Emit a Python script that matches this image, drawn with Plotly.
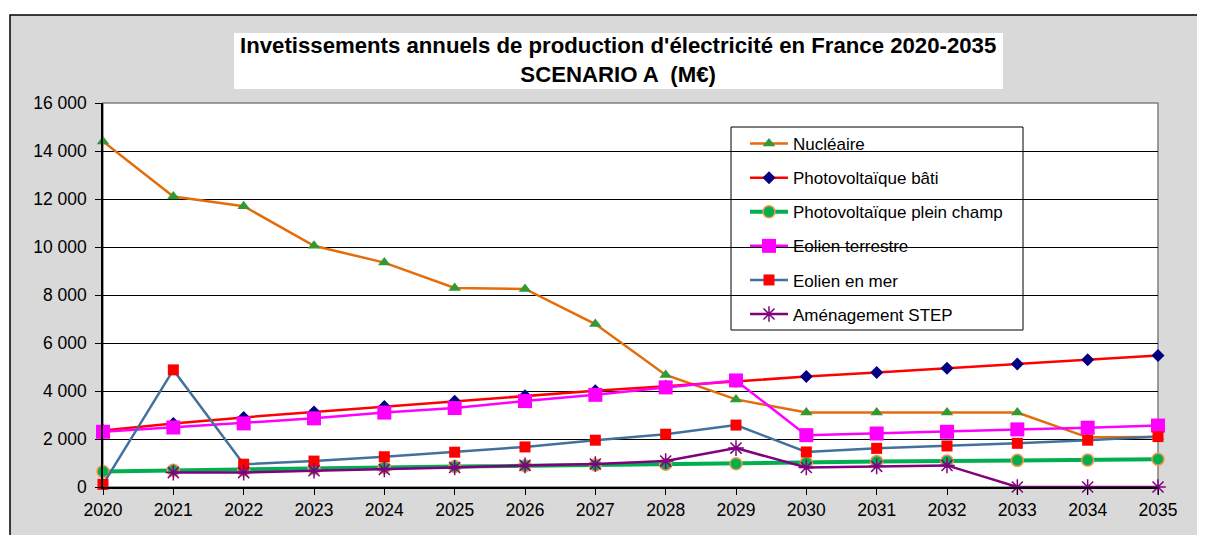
import plotly.graph_objects as go

years = list(range(2020, 2036))

nucleaire = [14400, 12100, 11700, 10050, 9350, 8290, 8250, 6790, 4670, 3650, 3100, 3100, 3100, 3100, 2070, 2080]
pv_bati = [2350, 2650, 2900, 3120, 3350, 3570, 3800, 4010, 4200, 4410, 4600, 4770, 4950, 5120, 5300, 5480]
pv_champ = [650, 700, 710, 770, 810, 850, 890, 920, 950, 970, 1010, 1060, 1080, 1110, 1120, 1160]
eolien_terre = [2300, 2480, 2650, 2860, 3100, 3290, 3580, 3840, 4150, 4440, 2160, 2230, 2300, 2400, 2470, 2560]
eolien_mer = [110, 4880, 950, 1080, 1260, 1450, 1670, 1950, 2200, 2580, 1460, 1610, 1710, 1820, 1950, 2100]
step = [None, 600, 600, 680, 730, 810, 900, 960, 1080, 1620, 810, 860, 900, 0, 0, 0]

FONT = "Liberation Sans, Arial, sans-serif"

# page has an 8px body margin; plot area in page pixels: x 103..1158, y 103..487
def px_x(p):
    return (p - 103) / 1055

def px_y(p):
    return (487 - p) / 384

series = [
    ("Nucléaire", nucleaire, dict(color="#E46C0A", width=2.5),
     dict(symbol="triangle-up", size=11, color="#339933")),
    ("Photovoltaïque bâti", pv_bati, dict(color="#FF0000", width=2.5),
     dict(symbol="diamond", size=10, color="#000080")),
    ("Photovoltaïque plein champ", pv_champ, dict(color="#00B050", width=4),
     dict(symbol="circle", size=12, color="#00B050", line=dict(color="#F79646", width=1.5))),
    ("Eolien terrestre", eolien_terre, dict(color="#FF00FF", width=2.5),
     dict(symbol="square", size=14, color="#FF00FF")),
    ("Eolien en mer", eolien_mer, dict(color="#41719C", width=2.5),
     dict(symbol="square", size=11, color="#FF0000")),
    ("Aménagement STEP", step, dict(color="#800080", width=2.5),
     dict(symbol="asterisk-open", size=13, color="#800080", line=dict(color="#800080", width=1.5))),
]

fig = go.Figure()
for i, (name, vals, line, marker) in enumerate(series):
    fig.add_trace(go.Scatter(
        x=years, y=vals, name=name, mode="lines+markers",
        line=line, marker=marker, cliponaxis=False,
        legendgroup=str(i),
    ))

# chart area background and borders
fig.add_shape(type="rect", xref="paper", yref="paper",
              x0=px_x(10), x1=px_x(1230), y0=px_y(570), y1=px_y(15),
              fillcolor="#D9D9D9", line=dict(color="#000000", width=1.5), layer="below")
fig.add_shape(type="rect", xref="paper", yref="paper",
              x0=0, x1=1, y0=0, y1=1,
              fillcolor="#FFFFFF", line=dict(color="#808080", width=1.5), layer="below")
# title box
fig.add_shape(type="rect", xref="paper", yref="paper",
              x0=px_x(234), x1=px_x(1003), y0=px_y(89), y1=px_y(33),
              fillcolor="#FFFFFF", line=dict(width=0), layer="below")
# legend box
fig.add_shape(type="rect", xref="paper", yref="paper",
              x0=px_x(731), x1=px_x(1023), y0=px_y(330), y1=px_y(127),
              fillcolor="#FFFFFF", line=dict(color="#000000", width=1), layer="below")

fig.add_annotation(
    text="<b>Invetissements annuels de production d'électricité en France 2020-2035<br>SCENARIO A  (M€)</b>",
    xref="paper", yref="paper", x=px_x(618), y=px_y(60), xanchor="center", yanchor="middle",
    showarrow=False, font=dict(family=FONT, size=22.2, color="#000000"),
)

fig.update_layout(
    width=1189, height=527,
    margin=dict(l=95, r=39, t=95, b=48),
    paper_bgcolor="#FFFFFF",
    plot_bgcolor="#FFFFFF",
    separators=", ",
    font=dict(family=FONT, size=17.5, color="#000000"),
    showlegend=True,
    legend=dict(
        x=px_x(745), y=px_y(126), xanchor="left", yanchor="top",
        bgcolor="rgba(0,0,0,0)", borderwidth=0,
        font=dict(family=FONT, size=17, color="#000000"),
        tracegroupgap=9, itemwidth=38,
    ),
)
fig.update_xaxes(
    range=[2020, 2035], tickvals=years, showgrid=False,
    showline=True, linecolor="#000000", linewidth=1.5,
    ticks="outside", ticklen=6, tickcolor="#000000", zeroline=False,
)
fig.update_yaxes(
    range=[0, 16000], dtick=2000, tickformat=",d",
    showgrid=True, gridcolor="#000000", gridwidth=1,
    showline=True, linecolor="#000000", linewidth=1.5,
    ticks="outside", ticklen=6, tickcolor="#000000", zeroline=False,
    ticklabelstandoff=5,
)

fig.write_html("out.html")
